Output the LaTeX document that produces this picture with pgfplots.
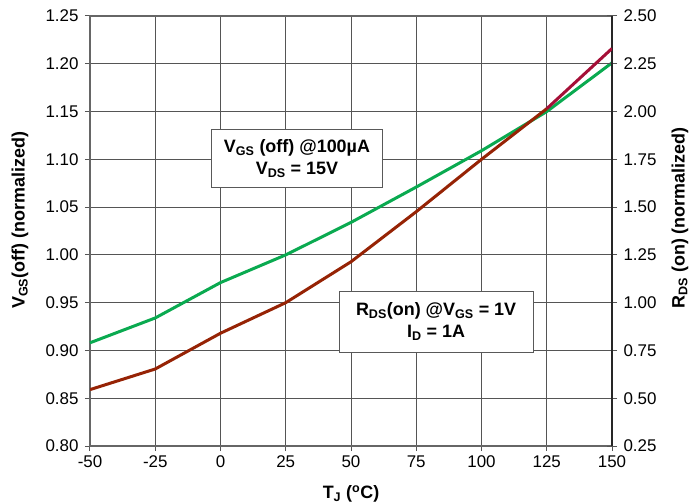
\documentclass[border=0pt]{standalone}
\usepackage{fontspec}
\setmainfont{Liberation Sans}
\usepackage{pgfplots}
\pgfplotsset{compat=1.18}
\definecolor{vgsgreen}{RGB}{10,170,80}
\definecolor{rdsbrown}{RGB}{150,35,5}
\definecolor{rdscrimson}{RGB}{165,15,55}
\definecolor{gridgray}{RGB}{85,85,85}

\begin{document}
\begin{tikzpicture}
\path[use as bounding box] (-90bp,-58bp) rectangle (603bp,446bp);
% left axis: VGS(off)
\begin{axis}[
  at={(0,0)}, anchor=south west,
  scale only axis, width=522bp, height=430bp,
  xmin=-50, xmax=150, ymin=0.80, ymax=1.25,
  xtick={-50,-25,0,25,50,75,100,125,150},
  xticklabels={-50,-25,0,25,50,75,100,125,150},
  ytick={0.80,0.85,0.90,0.95,1.00,1.05,1.10,1.15,1.20,1.25},
  yticklabel style={/pgf/number format/fixed, /pgf/number format/fixed zerofill,
                    /pgf/number format/precision=2, xshift=-3bp},
  /pgf/number format/assume math mode=true,
  xtick pos=bottom, ytick pos=left,
  tick align=center, major tick length=10bp,
  grid=major, major grid style={gridgray, line width=0.8bp},
  axis line style={gray!80!black, line width=1.6bp},
  tick style={gridgray, line width=1bp},
  tick label style={font=\fontsize{17}{20}\selectfont},
  xticklabel style={yshift=-1bp},
  xlabel={\bfseries T\textsubscript{J} (\textsuperscript{o}C)},
  ylabel={\bfseries V\textsubscript{GS}(off) (normalized)},
  label style={font=\fontsize{18}{21}\selectfont},
  xlabel style={at={(axis description cs:0.5,-0.112)}, anchor=center},
  ylabel style={at={(axis description cs:-0.134,0.525)}, anchor=center},
  clip=false,
]
\addplot[vgsgreen, line width=3bp] coordinates {
  (-50,0.908) (-25,0.934) (0,0.971) (25,1.000) (50,1.034)
  (75,1.071) (100,1.109) (125,1.150) (150,1.201)
};
\node[draw=gray!70!black, line width=1bp, fill=white, align=center,
      minimum width=171bp, minimum height=58bp, inner sep=2bp,
      font=\bfseries\fontsize{18}{22}\selectfont]
  at (axis cs:29.3,1.101) {V\textsubscript{GS} (off) @100µA\\V\textsubscript{DS} = 15V};
\node[draw=gray!70!black, line width=1bp, fill=white, align=center,
      minimum width=194bp, minimum height=61bp, inner sep=2bp,
      font=\bfseries\fontsize{18}{22}\selectfont]
  at (axis cs:82.6,0.930) {R\textsubscript{DS}(on) @V\textsubscript{GS} = 1V\\I\textsubscript{D} = 1A};
\end{axis}
% right axis: RDS(on)
\begin{axis}[
  at={(0,0)}, anchor=south west,
  scale only axis, width=522bp, height=430bp,
  xmin=-50, xmax=150, ymin=0.25, ymax=2.50,
  axis x line=none, axis y line*=right,
  ytick={0.25,0.50,0.75,1.00,1.25,1.50,1.75,2.00,2.25,2.50},
  yticklabel style={/pgf/number format/fixed, /pgf/number format/fixed zerofill,
                    /pgf/number format/precision=2, xshift=3bp},
  /pgf/number format/assume math mode=true,
  tick align=center, major tick length=10bp,
  axis line style={black!85, line width=1.3bp},
  tick style={gridgray, line width=1bp},
  tick label style={font=\fontsize{17}{20}\selectfont},
  ylabel={\bfseries R\textsubscript{DS} (on) (normalized)},
  label style={font=\fontsize{18}{21}\selectfont},
  ylabel style={at={(axis description cs:1.130,0.53)}, anchor=center},
]
\addplot[rdsbrown, line width=3bp] coordinates {
  (-50,0.545) (-25,0.653) (0,0.840) (25,1.000) (50,1.214)
  (75,1.476) (100,1.750) (125,2.015)
};
\addplot[rdscrimson, line width=3bp] coordinates {
  (125,2.015) (150,2.330)
};
\end{axis}
\end{tikzpicture}
\end{document}
